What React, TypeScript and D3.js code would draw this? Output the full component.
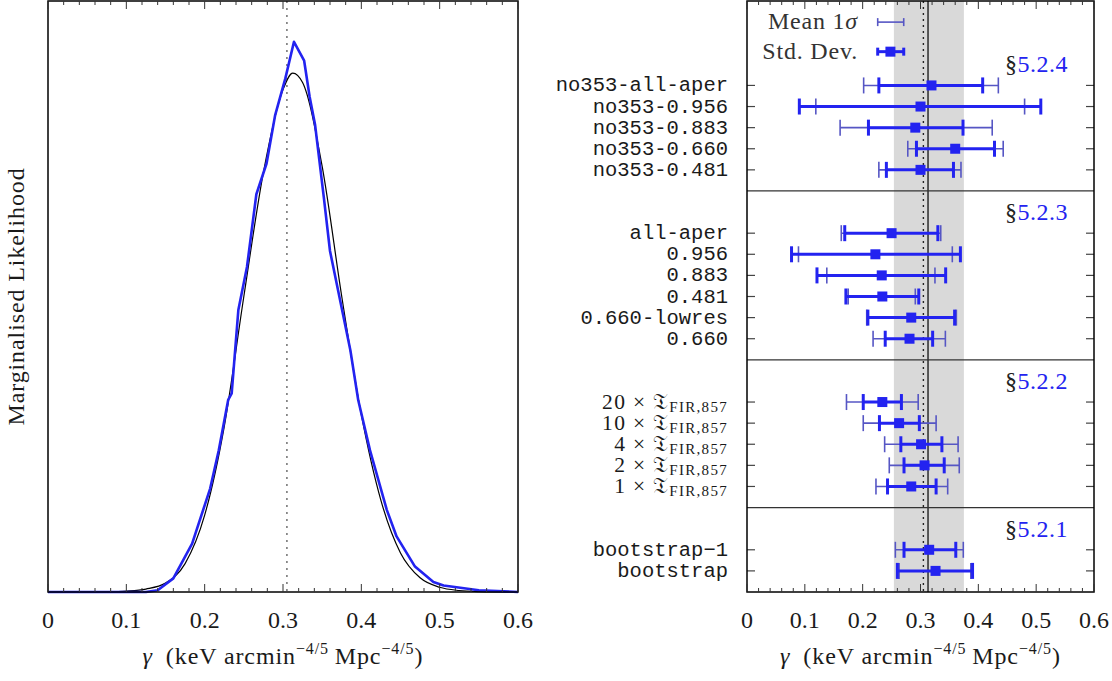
import React from "react";
import * as d3 from "d3";

// Left panel: marginalised likelihood of gamma
const blueGamma = [0, 0.125, 0.14, 0.16, 0.184, 0.207, 0.218, 0.23, 0.2345, 0.243, 0.254, 0.266, 0.279, 0.29, 0.303, 0.314, 0.327, 0.334, 0.341, 0.352, 0.36, 0.386, 0.396, 0.411, 0.4325, 0.445, 0.4685, 0.492, 0.505, 0.55, 0.6];
const blueLike = [0, 0, 0.003, 0.023, 0.082, 0.175, 0.24, 0.325, 0.336, 0.477, 0.55, 0.673, 0.725, 0.807, 0.869, 0.931, 0.899, 0.838, 0.79, 0.669, 0.577, 0.409, 0.325, 0.24, 0.139, 0.094, 0.043, 0.017, 0.011, 0.003, 0];
const blackGamma = [0, 0.05, 0.075, 0.1, 0.125, 0.15, 0.175, 0.2, 0.225, 0.25, 0.275, 0.3, 0.3125, 0.325, 0.35, 0.375, 0.4, 0.425, 0.45, 0.475, 0.5, 0.525, 0.55, 0.575, 0.6];
const blackLike = [0, 0, 0.0003, 0.0015, 0.005, 0.015, 0.048, 0.13, 0.28, 0.5, 0.71, 0.85, 0.878, 0.862, 0.72, 0.5, 0.3, 0.155, 0.066, 0.024, 0.008, 0.0025, 0.0007, 0.0002, 0];

// Right panel: gamma per run
const sections = ["5.2.4", "5.2.3", "5.2.2", "5.2.1"];
const groupSizes = [5, 6, 5, 2];
const rowLabels = [
  "no353-all-aper", "no353-0.956", "no353-0.883", "no353-0.660", "no353-0.481",
  "all-aper", "0.956", "0.883", "0.481", "0.660-lowres", "0.660",
  "20 × 𝔗_FIR,857", "10 × 𝔗_FIR,857", "4 × 𝔗_FIR,857", "2 × 𝔗_FIR,857", "1 × 𝔗_FIR,857",
  "bootstrap−1", "bootstrap",
];
const centre = [0.319, 0.3, 0.291, 0.36, 0.3, 0.25, 0.222, 0.233, 0.234, 0.284, 0.281, 0.234, 0.263, 0.301, 0.307, 0.284, 0.315, 0.326];
const stdLo = [0.228, 0.0905, 0.21, 0.293, 0.241, 0.169, 0.077, 0.121, 0.171, 0.209, 0.239, 0.201, 0.229, 0.266, 0.2715, 0.243, 0.2715, 0.26];
const stdHi = [0.4075, 0.508, 0.3735, 0.428, 0.357, 0.33, 0.369, 0.3435, 0.297, 0.359, 0.321, 0.267, 0.298, 0.337, 0.341, 0.327, 0.361, 0.39];
const meanLo = [0.2017, 0.119, 0.161, 0.278, 0.228, 0.163, 0.089, 0.138, 0.175, 0.207, 0.218, 0.172, 0.201, 0.238, 0.246, 0.223, 0.2565, 0.263];
const meanHi = [0.4346, 0.48, 0.424, 0.443, 0.37, 0.335, 0.355, 0.325, 0.291, 0.362, 0.343, 0.296, 0.327, 0.365, 0.367, 0.347, 0.374, 0.387];

const dottedRef = 0.305;
const solidRef = 0.313;
const band = [0.254, 0.375];
const legendLo = 0.226;
const legendHi = 0.271;
const legendMid = 0.248;

const W = 1112;
const H = 681;
const TOP = 1;
const BOT = 592;
const SERIF = "'Liberation Serif', 'DejaVu Serif', serif";
const MONO = "'Liberation Mono', 'DejaVu Sans Mono', monospace";
const BLUE = "#2323f0";
const THIN = "#5656c4";

function XAxis({ x }: { x: d3.ScaleLinear<number, number> }) {
  const major = x.ticks(6);
  const minor = x.ticks(24).filter((t) => !major.some((m) => Math.abs(m - t) < 1e-9));
  const [r0, r1] = x.range();
  return (
    <g>
      {minor.map((t) => (
        <g key={"m" + t} stroke="#333" strokeWidth={1}>
          <line x1={x(t)} x2={x(t)} y1={BOT} y2={BOT - 4} />
          <line x1={x(t)} x2={x(t)} y1={TOP} y2={TOP + 4} />
        </g>
      ))}
      {major.map((t) => (
        <g key={"M" + t}>
          <line x1={x(t)} x2={x(t)} y1={BOT} y2={BOT - 8} stroke="#333" />
          <line x1={x(t)} x2={x(t)} y1={TOP} y2={TOP + 8} stroke="#333" />
          <text x={x(t)} y={628} textAnchor="middle" fontFamily={SERIF} fontSize={24} fill="#1a1a1a">
            {d3.format("~g")(t)}
          </text>
        </g>
      ))}
      <text x={(r0 + r1) / 2} y={664} textAnchor="middle" fontFamily={SERIF} fontSize={24} letterSpacing={0.9} fill="#1a1a1a">
        <tspan fontStyle="italic">γ</tspan>
        <tspan>{"\u2002(keV arcmin"}</tspan>
        <tspan fontSize={16} dy={-10}>−4/5</tspan>
        <tspan dy={10}>{"\u2009Mpc"}</tspan>
        <tspan fontSize={16} dy={-10}>−4/5</tspan>
        <tspan dy={10}>)</tspan>
      </text>
    </g>
  );
}

function LikelihoodPanel() {
  const x = d3.scaleLinear().domain([0, 0.6]).range([48, 518]);
  const y = d3.scaleLinear().domain([0, 1]).range([BOT, TOP]);
  const blue = d3.line<number>().x((d, i) => x(blueGamma[i])).y((d) => y(d));
  const black = d3.line<number>().x((d, i) => x(blackGamma[i])).y((d) => y(d)).curve(d3.curveMonotoneX);
  return (
    <g>
      <line x1={x(dottedRef)} x2={x(dottedRef)} y1={TOP} y2={BOT} stroke="#666" strokeWidth={1.4} strokeDasharray="2,5" />
      <path d={black(blackLike) ?? ""} fill="none" stroke="#000" strokeWidth={1.2} />
      <path d={blue(blueLike) ?? ""} fill="none" stroke={BLUE} strokeWidth={2.6} strokeLinejoin="round" />
      <rect x={48} y={TOP} width={470} height={BOT - TOP} fill="none" stroke="#000" strokeWidth={1.5} />
      <XAxis x={x} />
      <text transform={`translate(24,${(TOP + BOT) / 2}) rotate(-90)`} textAnchor="middle" fontFamily={SERIF} fontSize={24} letterSpacing={0.9} fill="#1a1a1a">
        Marginalised Likelihood
      </text>
    </g>
  );
}

function ErrorBar({ x, y, lo, hi, color, width, cap }: any) {
  return (
    <g stroke={color} strokeWidth={width}>
      <line x1={x(lo)} x2={x(hi)} y1={y} y2={y} />
      <line x1={x(lo)} x2={x(lo)} y1={y - cap} y2={y + cap} />
      <line x1={x(hi)} x2={x(hi)} y1={y - cap} y2={y + cap} />
    </g>
  );
}

function RowLabel({ label, y }: { label: string; y: number }) {
  if (label.includes("_")) {
    const [main, sub] = label.split("_");
    return (
      <text x={728} y={y + 7} textAnchor="end" fontFamily={SERIF} fontSize={21.5} letterSpacing={1.3} fill="#1a1a1a">
        <tspan>{main}</tspan>
        <tspan fontSize={15} dy={3}>{sub}</tspan>
      </text>
    );
  }
  return (
    <text x={728} y={y + 6} textAnchor="end" fontFamily={MONO} fontSize={20.5} fill="#1a1a1a">
      {label}
    </text>
  );
}

function RunsPanel() {
  const x = d3.scaleLinear().domain([0, 0.6]).range([747, 1094]);
  const totalSlots = d3.sum(groupSizes) + groupSizes.length * 2 + 2;
  const y = d3.scaleLinear().domain([0, totalSlots]).range([BOT, TOP]);

  // slot positions, filled from the bottom group upwards
  const rowK: number[] = new Array(rowLabels.length);
  const sectionK: number[] = [];
  const sepK: number[] = [];
  let k = 0;
  for (let g = groupSizes.length - 1; g >= 0; g--) {
    const start = d3.sum(groupSizes.slice(0, g));
    const n = groupSizes[g];
    for (let j = 0; j < n; j++) rowK[start + n - 1 - j] = k + 1 + j;
    sectionK[g] = k + n + 1;
    sepK[g] = k + n + 2;
    k += n + 2;
  }

  return (
    <g>
      <rect x={x(band[0])} y={TOP} width={x(band[1]) - x(band[0])} height={BOT - TOP} fill="#d9d9d9" />
      <line x1={x(dottedRef)} x2={x(dottedRef)} y1={TOP} y2={BOT} stroke="#222" strokeWidth={1.4} strokeDasharray="2,4" />
      <line x1={x(solidRef)} x2={x(solidRef)} y1={TOP} y2={BOT} stroke="#000" strokeWidth={1.2} />
      {sepK.slice(1).map((s, i) => (
        <line key={"s" + i} x1={747} x2={1094} y1={y(s)} y2={y(s)} stroke="#333" strokeWidth={1.2} />
      ))}
      {sections.map((s, g) => (
        <text key={s} x={1068} y={y(sectionK[g]) + 8} textAnchor="end" fontFamily={SERIF} fontSize={24} letterSpacing={0.5}>
          <tspan fill="#222">§</tspan>
          <tspan fill={BLUE}>{s}</tspan>
        </text>
      ))}
      {rowLabels.map((label, i) => {
        const yy = y(rowK[i]);
        return (
          <g key={label}>
            <line x1={747} x2={755} y1={yy} y2={yy} stroke="#444" strokeWidth={1.2} />
            <line x1={1086} x2={1094} y1={yy} y2={yy} stroke="#444" strokeWidth={1.2} />
            <ErrorBar x={x} y={yy} lo={meanLo[i]} hi={meanHi[i]} color={THIN} width={1.6} cap={8} />
            <ErrorBar x={x} y={yy} lo={stdLo[i]} hi={stdHi[i]} color={BLUE} width={3} cap={8} />
            <rect x={x(centre[i]) - 5} y={yy - 5} width={10} height={10} fill={BLUE} />
            <RowLabel label={label} y={yy} />
          </g>
        );
      })}
      {/* legend */}
      <text x={858} y={y(27) + 7} textAnchor="end" fontFamily={SERIF} fontSize={24} letterSpacing={0.8} fill="#333">
        Mean 1<tspan fontStyle="italic">σ</tspan>
      </text>
      <ErrorBar x={x} y={y(27)} lo={legendLo} hi={legendHi} color={THIN} width={1.6} cap={4} />
      <text x={858} y={y(25.6) + 7} textAnchor="end" fontFamily={SERIF} fontSize={24} letterSpacing={0.8} fill="#333">
        Std. Dev.
      </text>
      <ErrorBar x={x} y={y(25.6)} lo={legendLo} hi={legendHi} color={BLUE} width={3} cap={4} />
      <rect x={x(legendMid) - 5} y={y(25.6) - 5} width={10} height={10} fill={BLUE} />
      <rect x={747} y={TOP} width={347} height={BOT - TOP} fill="none" stroke="#000" strokeWidth={1.5} />
      <XAxis x={x} />
    </g>
  );
}

export default function App() {
  return (
    <svg width={W} height={H} style={{ position: "absolute", left: 0, top: 0, background: "#fff" }}>
      <LikelihoodPanel />
      <RunsPanel />
    </svg>
  );
}
